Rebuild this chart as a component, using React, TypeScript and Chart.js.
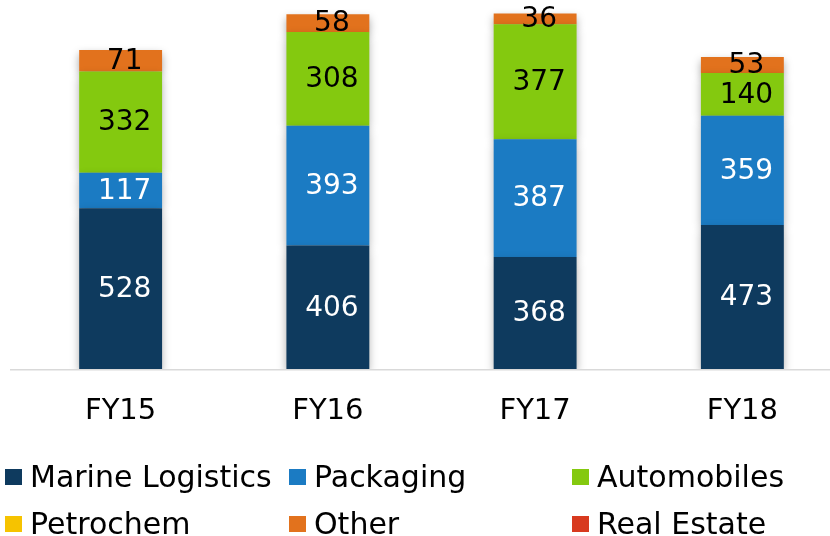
import React, { useEffect, useRef } from "react";
import { Chart, registerables } from "chart.js";

Chart.register(...registerables);

const categories = ["FY15", "FY16", "FY17", "FY18"];
const marineLogistics = [528, 406, 368, 473];
const packaging = [117, 393, 387, 359];
const automobiles = [332, 308, 377, 140];
const petrochem = [0, 0, 0, 0];
const other = [71, 58, 36, 53];
const realEstate = [0, 0, 0, 0];

const seriesNames = ["Marine Logistics", "Packaging", "Automobiles", "Petrochem", "Other", "Real Estate"];
const seriesColors = ["#0e3a5e", "#1b7bc3", "#84c90f", "#f6c300", "#e2721d", "#d83a1f"];
const labelColors = ["#ffffff", "#ffffff", "#000000", "#000000", "#000000", "#ffffff"];
const seriesData = [marineLogistics, packaging, automobiles, petrochem, other, realEstate];

const FONT = "'DejaVu Sans', sans-serif";

const barExtras = {
  id: "barExtras",
  beforeDatasetsDraw(chart: any) {
    const ctx = chart.ctx;
    ctx.save();
    ctx.shadowColor = "rgba(0,0,0,0.35)";
    ctx.shadowBlur = 9;
    ctx.shadowOffsetX = 0;
    ctx.shadowOffsetY = 4;
  },
  afterDatasetsDraw(chart: any) {
    const ctx = chart.ctx;
    ctx.restore();
    const yScale = chart.scales.y;
    const y0 = yScale.getPixelForValue(0);
    ctx.save();
    ctx.strokeStyle = "#d9d9d9";
    ctx.lineWidth = 1.5;
    ctx.beginPath();
    ctx.moveTo(10, y0 + 0.5);
    ctx.lineTo(chart.width, y0 + 0.5);
    ctx.stroke();
    ctx.restore();
    ctx.save();
    ctx.font = `28px ${FONT}`;
    ctx.textAlign = "center";
    ctx.textBaseline = "middle";
    chart.data.datasets.forEach((ds: any, di: number) => {
      const meta = chart.getDatasetMeta(di);
      meta.data.forEach((bar: any, i: number) => {
        const v = ds.data[i];
        if (!v) return;
        ctx.fillStyle = labelColors[di];
        ctx.fillText(String(v), bar.x + 4, (bar.y + bar.base) / 2 + 1);
      });
    });
    ctx.restore();
  },
};

export default function App() {
  const ref = useRef<HTMLCanvasElement | null>(null);
  useEffect(() => {
    if (!ref.current) return;
    const chart = new Chart(ref.current, {
      type: "bar",
      data: {
        labels: categories,
        datasets: seriesNames.map((name, i) => ({
          label: name,
          data: seriesData[i],
          backgroundColor: seriesColors[i],
          borderWidth: 0,
          barPercentage: 0.4,
          categoryPercentage: 1,
        })),
      },
      options: {
        responsive: false,
        animation: false,
        devicePixelRatio: 1,
        layout: { padding: { left: 17, right: 4, top: 0, bottom: 10 } },
        plugins: { legend: { display: false }, tooltip: { enabled: false } },
        scales: {
          x: {
            stacked: true,
            grid: { display: false, drawTicks: false },
            border: { display: false },
            ticks: { color: "#000", font: { family: FONT, size: 29 }, padding: 25 },
          },
          y: {
            stacked: true,
            display: false,
            min: 0,
            max: 1212,
          },
        },
      },
      plugins: [barExtras],
    });
    return () => chart.destroy();
  }, []);

  const cols = [5, 289, 572];
  const rows = [469, 516];
  return (
    <div style={{ position: "fixed", left: 0, top: 0, width: 830, height: 536, overflow: "hidden", background: "#fff" }}>
      <canvas ref={ref} width={850} height={464} style={{ position: "absolute", left: 0, top: 0, width: 850, height: 464 }} />
      {seriesNames.map((name, i) => {
        const c = i % 3;
        const r = Math.floor(i / 3);
        return (
          <React.Fragment key={name}>
            <div style={{ position: "absolute", left: cols[c], top: rows[r], width: 17, height: 16, background: seriesColors[i] }} />
            <div style={{ position: "absolute", left: cols[c] + 25, top: rows[r] - 7.5, font: `30px ${FONT}`, lineHeight: "30px", color: "#000", whiteSpace: "nowrap" }}>{name}</div>
          </React.Fragment>
        );
      })}
    </div>
  );
}
